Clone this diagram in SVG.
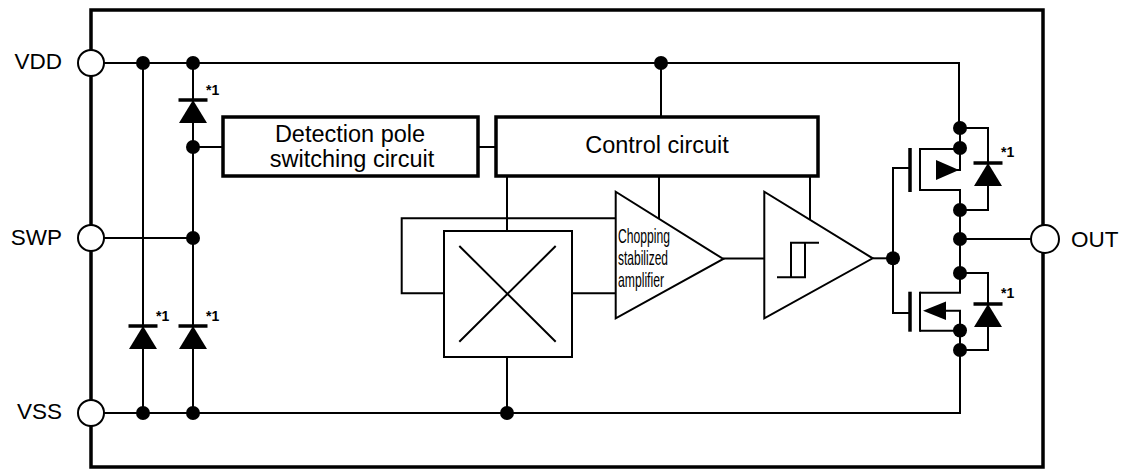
<svg xmlns="http://www.w3.org/2000/svg" xmlns:xlink="http://www.w3.org/1999/xlink" width="1131" height="471" viewBox="0 0 1131 471">
<style>
.w{fill:none;stroke:#000;stroke-width:2}
.thick{fill:#fff;stroke:#000;stroke-width:3.5}
.thin{fill:#fff;stroke:#000;stroke-width:2}
.pin{fill:#fff;stroke:#000;stroke-width:2}
.dot{fill:#000}
.lbl{font-family:"Liberation Sans",Arial,sans-serif;font-size:22.5px;fill:#000}
.box{font-family:"Liberation Sans",Arial,sans-serif;font-size:23.5px;fill:#000;text-anchor:middle}
.note{font-family:"Liberation Sans",Arial,sans-serif;font-size:14px;font-weight:bold;fill:#000}
.amp{font-family:"Liberation Sans",Arial,sans-serif;font-size:21px;fill:#000}
</style>
<defs>
<g id="diode"><line x1="-14.5" y1="0" x2="14.5" y2="0" stroke="#000" stroke-width="3.5"/><polygon points="0,0 -14,23 14,23" fill="#000"/></g>
</defs>
<rect x="0" y="0" width="1131" height="471" fill="#fff"/>
<rect id="frame" x="91" y="10" width="952" height="457" fill="none" stroke="#000" stroke-width="3.5"/>
<g id="connectors" class="w">
<path d="M104,63 H959 V128"/>
<path d="M143,63 V413"/>
<path d="M193,63 V413"/>
<path d="M193,147 H223"/>
<path d="M104,238 H193"/>
<path d="M104,413 H960 V350"/>
<path d="M478,147 H496"/>
<path d="M661,63 V117"/>
<path d="M507,176 V231"/>
<path d="M615.7,218.3 H401.7 V293.3 H444"/>
<path d="M572,293.3 H615.7"/>
<path d="M507,357 V413"/>
<path d="M659,176 V219"/>
<path d="M723,258.5 H764.3"/>
<path d="M810,176 V220"/>
<path d="M872.7,258.3 H893"/>
<path d="M910,168 H893 V313 H910"/>
<path d="M960,128 V170 H937"/>
<path d="M920,149 H960"/>
<path d="M920,190 H960 V292.7 H920"/>
<path d="M946,310.7 H960 V413"/>
<path d="M920,330.7 H960"/>
<path d="M960,128 H988 V210 H960"/>
<path d="M960,273 H988 V350 H960"/>
<path d="M960,239 H1031"/>
</g>
<g id="pin-vdd"><circle class="pin" cx="91" cy="63" r="13"/><text class="lbl" x="62" y="69" text-anchor="end">VDD</text></g>
<g id="pin-swp"><circle class="pin" cx="91" cy="238" r="13"/><text class="lbl" x="62" y="245" text-anchor="end">SWP</text></g>
<g id="pin-vss"><circle class="pin" cx="91" cy="413" r="13"/><text class="lbl" x="62" y="419" text-anchor="end">VSS</text></g>
<g id="pin-out"><circle class="pin" cx="1045" cy="239" r="14"/><text class="lbl" x="1071" y="247">OUT</text></g>
<g id="diode-top"><use xlink:href="#diode" x="193" y="100"/><text class="note" x="206" y="95">*1</text></g>
<g id="diode-bl1"><use xlink:href="#diode" x="143" y="326"/><text class="note" x="156" y="321">*1</text></g>
<g id="diode-bl2"><use xlink:href="#diode" x="193" y="326"/><text class="note" x="206" y="321">*1</text></g>
<g id="diode-r1"><use xlink:href="#diode" x="988" y="163"/><text class="note" x="1001" y="157">*1</text></g>
<g id="diode-r2"><use xlink:href="#diode" x="988" y="304"/><text class="note" x="1001" y="298">*1</text></g>
<g id="detection">
<rect class="thick" x="223" y="117" width="255" height="59"/>
<text class="box" x="350" y="142">Detection pole</text>
<text class="box" x="352" y="167">switching circuit</text>
</g>
<g id="control">
<rect class="thick" x="496" y="117" width="322" height="59"/>
<text class="box" x="657" y="153">Control circuit</text>
</g>
<g id="hall">
<rect class="thin" x="444" y="231" width="128" height="126"/>
<path class="w" d="M459.3,246 L555.7,341.7 M555.7,246 L459.3,341.7"/>
</g>
<g id="amplifier">
<polygon class="thin" points="615.7,191.7 615.7,318.3 723.3,259"/>
<text class="amp" x="618" y="243" textLength="52" lengthAdjust="spacingAndGlyphs">Chopping</text>
<text class="amp" x="618" y="265" textLength="50" lengthAdjust="spacingAndGlyphs">stabilized</text>
<text class="amp" x="618" y="287" textLength="46" lengthAdjust="spacingAndGlyphs">amplifier</text>
</g>
<g id="schmitt">
<polygon class="thin" points="764.3,191.7 764.3,318.3 872.7,258.3"/>
<path class="w" d="M777,277.3 H805 V242.7 M791,277.3 V242.7 H819"/>
</g>
<g id="pmos">
<line x1="910" y1="148" x2="910" y2="192" stroke="#000" stroke-width="3.5"/>
<line x1="920" y1="148" x2="920" y2="191" stroke="#000" stroke-width="2"/>
<polygon points="936,160 936,180 959,170" fill="#000"/>
</g>
<g id="nmos">
<line x1="910" y1="291.7" x2="910" y2="331.7" stroke="#000" stroke-width="3.5"/>
<line x1="920" y1="291.7" x2="920" y2="331.7" stroke="#000" stroke-width="2"/>
<polygon points="923,310.7 946,301.5 946,320" fill="#000"/>
</g>
<g id="junctions" class="dot">
<circle cx="143" cy="63" r="7"/><circle cx="193" cy="63" r="7"/>
<circle cx="193" cy="147" r="7"/><circle cx="193" cy="238" r="7"/>
<circle cx="143" cy="413" r="7"/><circle cx="193" cy="413" r="7"/>
<circle cx="661" cy="63" r="7"/><circle cx="507" cy="413" r="7"/>
<circle cx="893" cy="258.3" r="7"/>
<circle cx="960" cy="128" r="7"/><circle cx="960" cy="148" r="7"/>
<circle cx="960" cy="210" r="7"/><circle cx="960" cy="239" r="7"/>
<circle cx="960" cy="273" r="7"/><circle cx="960" cy="330.5" r="7"/>
<circle cx="960" cy="350" r="7"/>
</g>
</svg>
